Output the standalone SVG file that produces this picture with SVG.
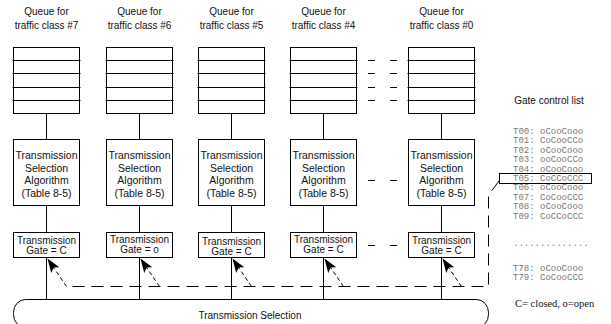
<svg xmlns="http://www.w3.org/2000/svg" width="611" height="324" viewBox="0 0 611 324">
<style>
.box{fill:#fff;stroke:#000;stroke-width:1}
.ln{stroke:#000;stroke-width:1;fill:none}
.dash{stroke:#000;stroke-width:1;fill:none;stroke-dasharray:12 7}
.ddiag{stroke:#000;stroke-width:1;fill:none;stroke-dasharray:4 3}
.t{font-family:"Liberation Sans",Arial,sans-serif;font-size:10px;fill:#111;text-anchor:middle}
.ts{font-family:"Liberation Sans",Arial,sans-serif;font-size:10.5px;fill:#111;text-anchor:middle}
.m{font-family:"Liberation Mono","Courier New",monospace;font-size:9px;fill:#777}
.s{font-family:"Liberation Serif","Times New Roman",serif;font-size:10.5px;fill:#111}
</style>
<defs>
<marker id="ah" viewBox="0 0 14 10" refX="14" refY="5" markerWidth="14" markerHeight="10" markerUnits="userSpaceOnUse" orient="auto">
<path d="M0,0 L14,5 L0,10 L3,5 z" fill="#000"/>
</marker>
<g id="queue">
<rect class="box" x="-33" y="47.5" width="66" height="66"/>
<path class="ln" d="M-34,60.5 H34 M-34,73.5 H34 M-34,87.5 H34 M-34,100.5 H34"/>
</g>
</defs>

<g id="connectors">
<path class="ln" d="M46.5,113.5 V139.5 M46.5,205.5 V232.5 M46.5,257.5 V299.5"/>
<path class="ln" d="M139.5,113.5 V139.5 M139.5,205.5 V232.5 M139.5,257.5 V299.5"/>
<path class="ln" d="M231.5,113.5 V139.5 M231.5,205.5 V232.5 M231.5,257.5 V299.5"/>
<path class="ln" d="M323.5,113.5 V139.5 M323.5,205.5 V232.5 M323.5,257.5 V299.5"/>
<path class="ln" d="M441.5,113.5 V139.5 M441.5,205.5 V232.5 M441.5,257.5 V299.5"/>
<path class="ln" d="M368,60.5 H375 M390,60.5 H397 M368,73.5 H375 M390,73.5 H397 M368,87.5 H375 M390,87.5 H397 M368,100.5 H375 M390,100.5 H397 M368,180.5 H375 M390,180.5 H397 M368,245.5 H375 M390,245.5 H397"/>
<path class="dash" d="M499,181 L488.5,195 V286.5 H66"/>
<path class="ddiag" d="M66.5,286.5 L47.5,258.5" marker-end="url(#ah)"/>
<path class="ddiag" d="M159.5,286.5 L140.5,258.5" marker-end="url(#ah)"/>
<path class="ddiag" d="M251.5,286.5 L232.5,258.5" marker-end="url(#ah)"/>
<path class="ddiag" d="M343.5,286.5 L324.5,258.5" marker-end="url(#ah)"/>
<path class="ddiag" d="M461.5,286.5 L442.5,258.5" marker-end="url(#ah)"/>
</g>

<g id="q7"><text class="t" x="46.5" y="15">Queue for</text><text class="t" x="46.5" y="29">traffic class #7</text><use href="#queue" x="46.5"/></g>
<g id="q6"><text class="t" x="139.5" y="15">Queue for</text><text class="t" x="139.5" y="29">traffic class #6</text><use href="#queue" x="139.5"/></g>
<g id="q5"><text class="t" x="231.5" y="15">Queue for</text><text class="t" x="231.5" y="29">traffic class #5</text><use href="#queue" x="231.5"/></g>
<g id="q4"><text class="t" x="323.5" y="15">Queue for</text><text class="t" x="323.5" y="29">traffic class #4</text><use href="#queue" x="323.5"/></g>
<g id="q0"><text class="t" x="441.5" y="15">Queue for</text><text class="t" x="441.5" y="29">traffic class #0</text><use href="#queue" x="441.5"/></g>

<g id="tsa7"><rect class="box" x="13.5" y="139.5" width="66" height="66"/><text class="ts" x="46.5" y="159">Transmission</text><text class="ts" x="46.5" y="171.5">Selection</text><text class="ts" x="46.5" y="184">Algorithm</text><text class="ts" x="46.5" y="196.5">(Table 8-5)</text></g>
<g id="tsa6"><rect class="box" x="106.5" y="139.5" width="66" height="66"/><text class="ts" x="139.5" y="159">Transmission</text><text class="ts" x="139.5" y="171.5">Selection</text><text class="ts" x="139.5" y="184">Algorithm</text><text class="ts" x="139.5" y="196.5">(Table 8-5)</text></g>
<g id="tsa5"><rect class="box" x="198.5" y="139.5" width="66" height="66"/><text class="ts" x="231.5" y="159">Transmission</text><text class="ts" x="231.5" y="171.5">Selection</text><text class="ts" x="231.5" y="184">Algorithm</text><text class="ts" x="231.5" y="196.5">(Table 8-5)</text></g>
<g id="tsa4"><rect class="box" x="290.5" y="139.5" width="66" height="66"/><text class="ts" x="323.5" y="159">Transmission</text><text class="ts" x="323.5" y="171.5">Selection</text><text class="ts" x="323.5" y="184">Algorithm</text><text class="ts" x="323.5" y="196.5">(Table 8-5)</text></g>
<g id="tsa0"><rect class="box" x="408.5" y="139.5" width="66" height="66"/><text class="ts" x="441.5" y="159">Transmission</text><text class="ts" x="441.5" y="171.5">Selection</text><text class="ts" x="441.5" y="184">Algorithm</text><text class="ts" x="441.5" y="196.5">(Table 8-5)</text></g>

<g id="gate7"><rect class="box" x="13.5" y="232.5" width="66" height="25"/><text class="t" x="46.5" y="244">Transmission</text><text class="t" x="46.5" y="254">Gate = C</text></g>
<g id="gate6"><rect class="box" x="106.5" y="232.5" width="66" height="25"/><text class="t" x="139.5" y="242.5">Transmission</text><text class="t" x="139.5" y="252.5">Gate = o</text></g>
<g id="gate5"><rect class="box" x="198.5" y="232.5" width="66" height="25"/><text class="t" x="231.5" y="244.5">Transmission</text><text class="t" x="231.5" y="254.5">Gate = C</text></g>
<g id="gate4"><rect class="box" x="290.5" y="232.5" width="66" height="25"/><text class="t" x="323.5" y="243">Transmission</text><text class="t" x="323.5" y="253">Gate = C</text></g>
<g id="gate0"><rect class="box" x="408.5" y="232.5" width="66" height="25"/><text class="t" x="441.5" y="243.5">Transmission</text><text class="t" x="441.5" y="253.5">Gate = C</text></g>

<g id="selection"><rect class="box" x="13.5" y="299.5" width="475" height="28" rx="12" ry="13"/><text class="t" x="250" y="319">Transmission Selection</text></g>

<g id="gcl">
<text class="t" x="549" y="104">Gate control list</text>
<text class="m" x="513" y="134">T00: oCooCooo</text>
<text class="m" x="513" y="143.4">T01: CoCooCCo</text>
<text class="m" x="513" y="152.8">T02: oCooCooo</text>
<text class="m" x="513" y="162.2">T03: ooCooCCo</text>
<text class="m" x="513" y="171.6">T04: oCooCooo</text>
<text class="m" x="513" y="181">T05: CoCCoCCC</text>
<rect class="ln" x="499.5" y="173.5" width="92" height="10"/>
<text class="m" x="513" y="190.4">T06: oCooCooo</text>
<text class="m" x="513" y="199.8">T07: CoCooCCC</text>
<text class="m" x="513" y="209.2">T08: oCooCooo</text>
<text class="m" x="513" y="218.6">T09: CoCCoCCC</text>
<text class="m" x="513" y="246">..............</text>
<text class="m" x="513" y="271">T78: oCooCooo</text>
<text class="m" x="513" y="280.4">T79: CoCooCCC</text>
<text class="s" x="515" y="307">C= closed, o=open</text>
</g>
</svg>
